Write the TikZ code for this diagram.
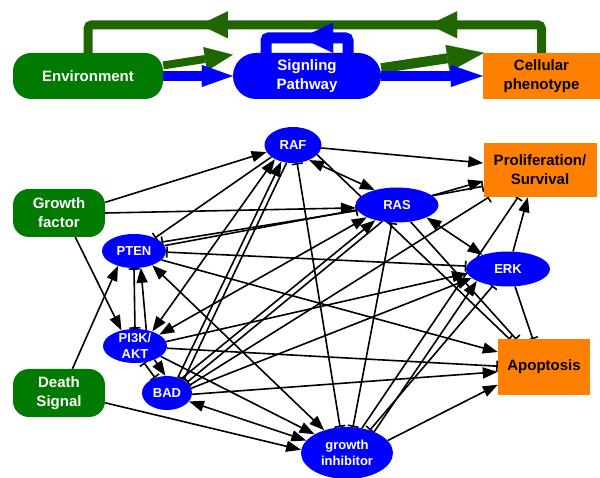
\documentclass[tikz,border=0pt]{standalone}
\usepackage{fontspec}
\setmainfont{Liberation Sans}
\usetikzlibrary{arrows.meta,shapes.geometric,backgrounds,decorations.markings}
\definecolor{boxgreen}{RGB}{0,122,0}
\definecolor{loopgreen}{RGB}{31,102,0}
\definecolor{pathblue}{RGB}{0,0,255}
\definecolor{phenoorange}{RGB}{255,128,0}
\tikzset{
  bigtext/.style={font=\bfseries\fontsize{15}{19}\selectfont, align=center, inner sep=0pt},
  smalltext/.style={font=\bfseries\fontsize{13}{16}\selectfont, align=center, inner sep=-5pt},
  gbox/.style={bigtext, fill=boxgreen, text=white, rounded corners=16pt, minimum width=92pt, minimum height=48pt},
  obox/.style={bigtext, fill=phenoorange, text=black},
  prot/.style={smalltext, ellipse, fill=pathblue, text=white},
  act/.style={-{Triangle[length=15pt,width=11pt]}},
  inh/.style={-{Bar[width=11pt]}},
  dact/.style={{Triangle[length=15pt,width=11pt]}-{Triangle[length=15pt,width=11pt]}},
  dinh/.style={{Bar[width=11pt]}-{Bar[width=11pt]}},
  fbloop/.style={loopgreen, line width=9pt, rounded corners=4pt, postaction={decorate},
    decoration={markings,
      mark=at position 0.274 with {\arrow{Triangle[length=28pt,width=27pt,line width=0.1pt]}},
      mark=at position 0.727 with {\arrow{Triangle[length=28pt,width=27pt,line width=0.1pt]}}}},
  sigloop/.style={pathblue, line width=11pt, rounded corners=3pt, postaction={decorate},
    decoration={markings,
      mark=at position 0.554 with {\arrow{Triangle[length=32pt,width=30pt,line width=0.1pt]}}}}
}
\begin{document}
\begin{tikzpicture}[x=1pt,y=-1pt]
  \useasboundingbox (0,0) rectangle (600,478);

  \node[gbox, minimum width=150pt, minimum height=46pt, rounded corners=18pt] (env) at (88,76) {Environment};
  \node[bigtext, fill=pathblue, text=white, minimum width=148pt, minimum height=46pt, rounded corners=23pt] (sig) at (307,76) {Signling\\Pathway};
  \node[obox, minimum width=117pt, minimum height=46pt] (pheno) at (541.5,76) {Cellular\\phenotype};

  \begin{scope}[every node/.style={prot}]
    \node[minimum width=57pt, minimum height=36pt] (raf)  at (293,145) {RAF};
    \node[minimum width=83pt, minimum height=35pt] (ras)  at (397,205) {RAS};
    \node[minimum width=64pt, minimum height=34pt] (pten) at (134,251) {PTEN};
    \node[minimum width=84pt, minimum height=35pt] (erk)  at (508,269) {ERK};
    \node[minimum width=64pt, minimum height=34pt] (pik)  at (135,346) {PI3K/\\AKT};
    \node[minimum width=50pt, minimum height=34pt] (bad)  at (167,393) {BAD};
    \node[minimum width=92pt, minimum height=52pt] (gi)   at (347,453) {growth\\inhibitor};
  \end{scope}

  \node[gbox] (gf) at (59,213) {Growth\\factor};
  \node[gbox] (ds) at (59,393) {Death\\Signal};
  \node[obox, minimum width=113pt, minimum height=54pt] (prol) at (540,170) {Proliferation/\\Survival};
  \node[obox, minimum width=92pt, minimum height=55pt] (apop) at (544,367) {Apoptosis};

  \begin{scope}[on background layer]
    \draw[fbloop] (pheno.north) -- ++(0,-28) -| (env.north);
    \draw[sigloop] ([xshift=41pt]sig.north) -- ++(0,-15) -| ([xshift=-41pt]sig.north);
    \draw[loopgreen, line width=8pt, -{Triangle[length=28pt,width=24pt,line width=0.1pt]}] (env.8) -- (sig.164);
    \draw[loopgreen, line width=10pt, -{Triangle[length=37pt,width=27pt,line width=0.1pt]}] (sig.6) -- (pheno.158);
    \draw[pathblue, line width=10pt, -{Triangle[length=31pt,width=22pt,line width=0.1pt]}] (env.east) -- (sig.west);
    \draw[pathblue, line width=10pt, -{Triangle[length=32pt,width=22pt,line width=0.1pt]}] (sig.east) -- (pheno.west);

    \begin{scope}[line width=1.6pt]
      \draw[act]  (gf.13)   -- (raf.195);
      \draw[act]  (gf.0)    -- (ras.184);
      \draw[act]  (gf.-56)  -- (pik.131);
      \draw[act]  (ds.61)   -- (pten.223);
      \draw[act]  (ds.-12)  -- (gi.176);
      \draw[act]  (raf.-6)  -- (prol.173);
      \draw[dact] (raf.-43) -- (ras.146);
      \draw[inh]  (raf.209) -- (pten.32);
      \draw[dact] (raf.218) -- (pik.40);
      \draw[act]  (bad.55)  -- (raf.235);
      \draw[inh]  (raf.250) -- (bad.38);
      \draw[dinh] (raf.-77) -- (gi.105);
      \draw[inh]  (raf.-22) -- (apop.141);
      \draw[act]  (ras.15)  -- (prol.191);
      \draw[inh]  (pten.10) -- (prol.196);
      \draw[dinh] (pten.18) -- (ras.188);
      \draw[dinh] (pten.-2) -- (erk.176);
      \draw[act]  (pten.-18) -- (apop.162);
      \draw[dact] (pten.-38) -- (gi.135);
      \draw[dinh] (pten.-90) -- (pik.90);
      \draw[act]  (pik.55)  -- (pten.-68);
      \draw[dact] (pik.25)  -- (ras.202);
      \draw[act]  (pik.8)   -- (erk.186);
      \draw[inh]  (pik.-4)  -- (apop.179);
      \draw[act]  (pik.-22) -- (gi.150);
      \draw[dinh] (pik.-62) -- (bad.128);
      \draw[act]  (pik.-35) -- (bad.95);
      \draw[act]  (bad.45)  -- (ras.215);
      \draw[inh]  (ras.228) -- (bad.28);
      \draw[act]  (bad.11)  -- (erk.194);
      \draw[inh]  (bad.19)  -- (prol.208);
      \draw[act]  (bad.-3)  -- (apop.186);
      \draw[dact] (bad.-21) -- (gi.163);
      \draw[dact] (ras.-23) -- (erk.151);
      \draw[dinh] (ras.-106) -- (gi.77);
      \draw[inh]  (ras.-51) -- (apop.135);
      \draw[act]  (erk.74)  -- (prol.246);
      \draw[inh]  (erk.-68) -- (apop.112);
      \draw[inh]  (gi.59)   -- (prol.231);
      \draw[dinh] (gi.45)   -- (erk.228);
      \draw[act]  (gi.38)   -- (erk.201);
      \draw[act]  (gi.17)   -- (apop.201);
    \end{scope}
  \end{scope}
\end{tikzpicture}
\end{document}
